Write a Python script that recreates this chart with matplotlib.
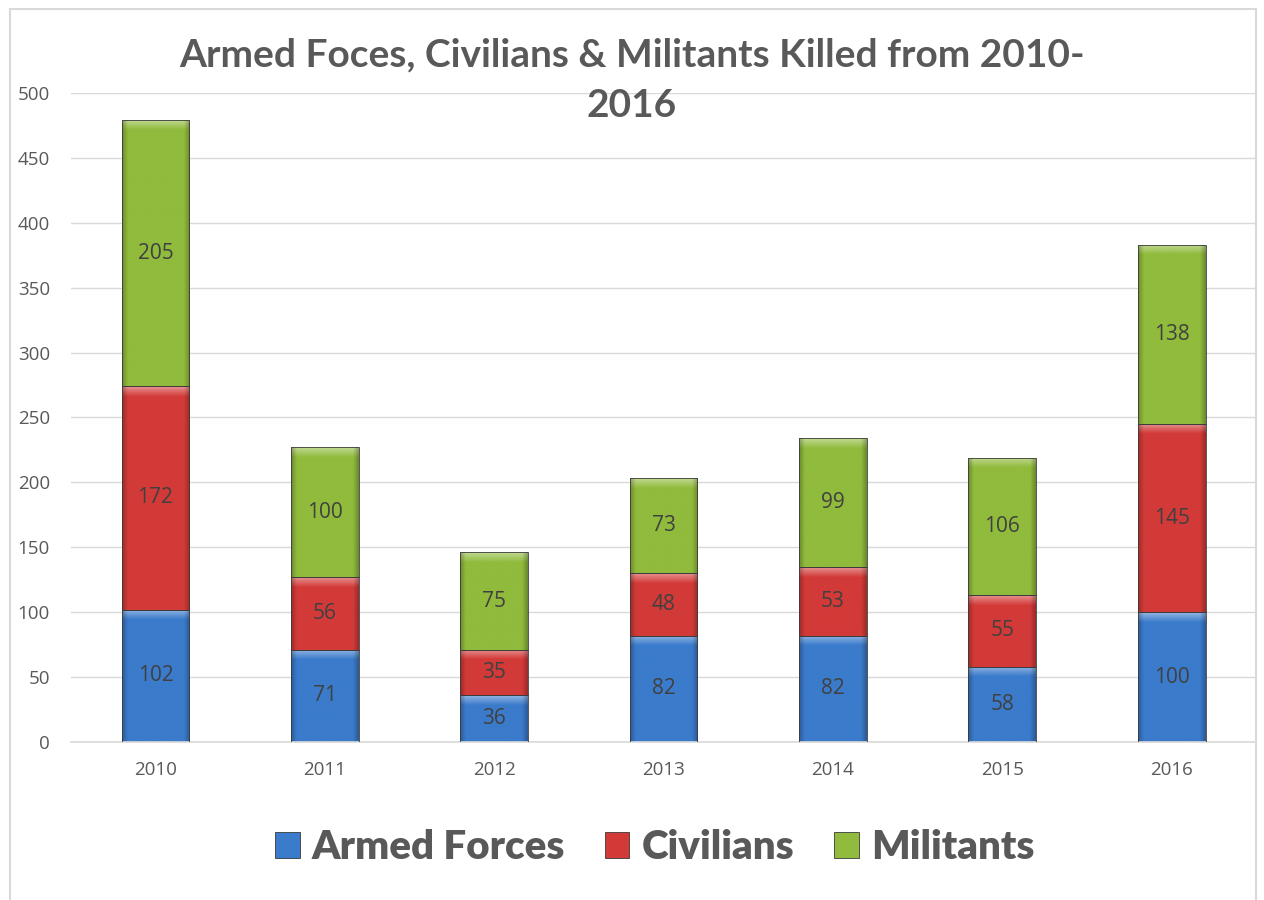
import matplotlib.pyplot as plt
import numpy as np
from matplotlib.patches import Patch, Rectangle
from matplotlib.colors import to_rgb

# data
years = ['2010', '2011', '2012', '2013', '2014', '2015', '2016']
armed_forces = [102, 71, 36, 82, 82, 58, 100]
civilians = [172, 56, 35, 48, 53, 55, 145]
militants = [205, 100, 75, 73, 99, 106, 138]

series = [('Armed Forces', armed_forces, '#3b7bcb'),
          ('Civilians', civilians, '#d23a38'),
          ('Militants', militants, '#90bb3c')]

grey = '#595959'

fig = plt.figure(figsize=(12.64, 9), dpi=100)
ax = fig.add_axes([0.056, 0.1756, 0.938, 0.7211])

# outer chart border
fig.patches.append(Rectangle((0.008, -0.01), 0.986, 1.0, transform=fig.transFigure,
                             fill=False, edgecolor='#d9d9d9', lw=1.5))


def shade(patch, color):
    # bevel-ish fill: lighter strip at the top, darker at sides
    x0, y0 = patch.get_x(), patch.get_y()
    w, h = patch.get_width(), patch.get_height()
    base = np.array(to_rgb(color))
    ny, nx = 200, 60
    img = np.tile(base, (ny, nx, 1))
    yy = np.linspace(1, 0, ny)[:, None]
    xx = np.linspace(0, 1, nx)[None, :]
    top = np.clip((yy * h * 1.298 - (h * 1.298 - 10)) / 10, 0, 1)  # ~10px top band
    side = np.clip(1 - np.minimum(xx, 1 - xx) / 0.08, 0, 1)
    light = 1 - (1 - base) * 0.55
    img = img * (1 - top[..., None]) + light * top[..., None]
    img = img * (1 - 0.25 * side[..., None])
    im = ax.imshow(img, extent=(x0, x0 + w, y0, y0 + h), aspect='auto',
                   origin='upper', zorder=2, interpolation='bilinear')
    im.set_clip_path(patch)


x = np.arange(len(years))
bottom = np.zeros(len(years))
handles = []
for name, vals, color in series:
    bars = ax.bar(x, vals, width=0.4, bottom=bottom, color=color,
                  edgecolor='#3a3a3a', linewidth=0.6, zorder=3)
    for b, v in zip(bars, vals):
        b.set_facecolor('none')
        shade(b, color)
        ax.text(b.get_x() + b.get_width() / 2, b.get_y() + b.get_height() / 2,
                str(v), ha='center', va='center', fontsize=15, color='#404040',
                family='Open Sans', zorder=4)
    bottom += np.array(vals)
    handles.append(Patch(facecolor=color, edgecolor='#3a3a3a', linewidth=0.6, label=name))

ax.set_xlim(-0.5, len(years) - 0.5)
ax.set_ylim(0, 500)
ax.set_yticks(range(0, 501, 50))
ax.set_xticks(x)
ax.set_xticklabels(years)
ax.grid(axis='y', color='#d9d9d9', lw=1, zorder=0)
ax.set_axisbelow(True)
for s in ['top', 'right', 'left']:
    ax.spines[s].set_visible(False)
ax.spines['bottom'].set_color('#d9d9d9')
ax.spines['bottom'].set_linewidth(1.2)
ax.tick_params(length=0, labelsize=13.5, labelcolor=grey, pad=14)
ax.tick_params(axis='y', pad=15)
for lab in ax.get_xticklabels() + ax.get_yticklabels():
    lab.set_family('Open Sans')

fig.text(0.5, 0.939, 'Armed Foces, Civilians & Militants Killed from 2010-', ha='center',
         va='center', fontsize=28, fontweight='bold', color=grey, family='Lato')
fig.text(0.5, 0.883, '2016', ha='center', va='center', fontsize=28,
         fontweight='bold', color=grey, family='Lato')

fig.legend(handles=handles, loc='center', bbox_to_anchor=(0.518, 0.058), ncol=3,
           frameon=False, prop={'family': 'Lato', 'weight': 'heavy', 'size': 29},
           labelcolor=grey, handlelength=0.6, handleheight=0.6, handletextpad=0.3,
           columnspacing=1.0)

fig.savefig('out.png', dpi=100)
